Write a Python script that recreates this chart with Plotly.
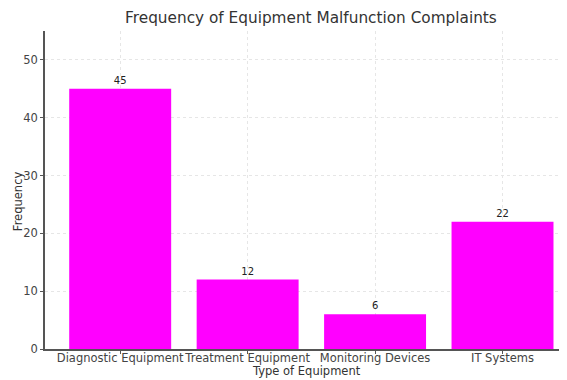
import plotly.graph_objects as go

categories = ["Diagnostic Equipment", "Treatment Equipment", "Monitoring Devices", "IT Systems"]
frequency = [45, 12, 6, 22]

fig = go.Figure()
fig.add_trace(go.Bar(
    x=list(range(len(categories))), y=frequency,
    marker=dict(color="#FF00FF", line=dict(width=0)),
    width=0.8,
    text=[str(v) for v in frequency], textposition="outside",
    textfont=dict(size=10, color="#222222"),
    cliponaxis=False,
))

fig.update_layout(
    width=559, height=372,
    margin=dict(l=37, r=0, t=23, b=31, autoexpand=False),
    paper_bgcolor="white", plot_bgcolor="white",
    font=dict(family="DejaVu Sans", color="#333333"),
    showlegend=False,
    bargap=0.2,
    title=dict(text="Frequency of Equipment Malfunction Complaints",
               x=0.542, xanchor="center", y=0.973, yanchor="middle",
               font=dict(size=15.3, color="#333333")),
    xaxis=dict(
        tickmode="array", tickvals=list(range(len(categories))), ticktext=categories,
        range=[-0.59, 3.506], automargin=False, tickangle=0,
        showgrid=True, gridcolor="#e6e6e6", griddash="dot", gridwidth=1,
        showline=True, linecolor="#555555", linewidth=1.5,
        ticks="outside", ticklen=3, tickcolor="#555555",
        tickfont=dict(size=11.5, color="#444444"),
        ticklabelstandoff=-6,
        zeroline=False,
    ),
    yaxis=dict(
        range=[0, 55], tickvals=[0, 10, 20, 30, 40, 50], automargin=False,
        showgrid=True, gridcolor="#e6e6e6", griddash="dot", gridwidth=1,
        showline=True, linecolor="#555555", linewidth=1.5,
        ticks="outside", ticklen=3, tickcolor="#555555",
        tickfont=dict(size=11.5, color="#444444"),
        zeroline=False,
    ),
    annotations=[
        dict(text="Type of Equipment", xref="paper", yref="paper",
             x=0.5, y=-0.069, xanchor="center", yanchor="middle", showarrow=False,
             font=dict(size=11.5, color="#333333")),
        dict(text="Frequency", xref="paper", yref="paper", textangle=-90,
             x=-0.0517, y=0.465, xanchor="center", yanchor="middle", showarrow=False,
             font=dict(size=11.5, color="#333333")),
    ],
)

fig.write_html("out.html")
